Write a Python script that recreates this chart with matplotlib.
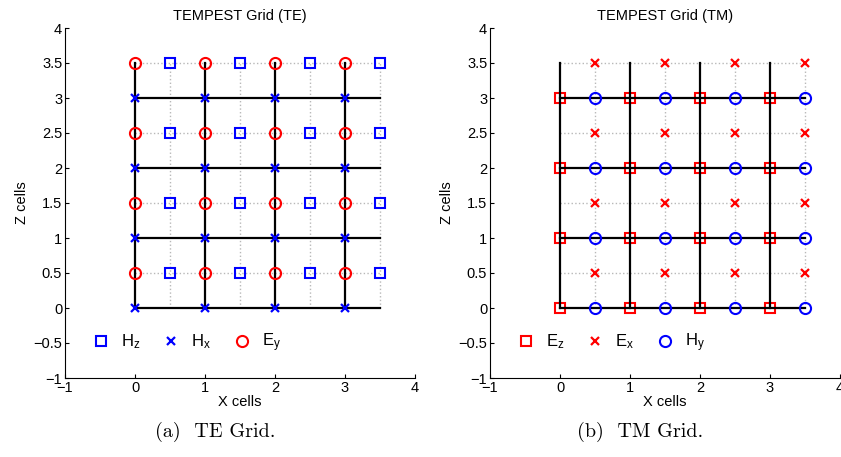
import matplotlib.pyplot as plt
import numpy as np

# -- Grid data (cell coordinates) --
int_pos = [0, 1, 2, 3]
half_pos = [0.5, 1.5, 2.5, 3.5]
line_end = 3.5

te_title = 'TEMPEST Grid (TE)'
tm_title = 'TEMPEST Grid (TM)'
te_labels = [r'$\mathregular{H_z}$', r'$\mathregular{H_x}$', r'$\mathregular{E_y}$']
tm_labels = [r'$\mathregular{E_z}$', r'$\mathregular{E_x}$', r'$\mathregular{H_y}$']
ticks = [-1, -0.5, 0, 0.5, 1, 1.5, 2, 2.5, 3, 3.5, 4]
xticks = [-1, 0, 1, 2, 3, 4]

plt.rcParams['font.family'] = ['Liberation Sans', 'DejaVu Sans']

W, H = 841, 457
fig = plt.figure(figsize=(W / 100, H / 100), dpi=100)


def fmt(t):
    return ('%g' % t).replace('-', '\u2212')


def mesh(xs, zs):
    X, Z = np.meshgrid(xs, zs)
    return X.ravel(), Z.ravel()


def draw_grid(ax):
    # gray dotted half-cell lines
    for z in half_pos:
        ax.plot([0, line_end], [z, z], ':', color='0.72', lw=1, zorder=1)
    for x in half_pos:
        ax.plot([x, x], [0, line_end], ':', color='0.72', lw=1, zorder=1)
    # black cell lines
    for x in int_pos:
        ax.plot([x, x], [0, line_end], '-', color='k', lw=1.6, zorder=2)
    for z in int_pos:
        ax.plot([0, line_end], [z, z], '-', color='k', lw=1.6, zorder=2)


def style_axes(ax, title):
    ax.set_xlim(-1, 4)
    ax.set_ylim(-1, 4)
    ax.set_xticks(xticks)
    ax.set_xticklabels([fmt(t) for t in xticks])
    ax.set_yticks(ticks)
    ax.set_yticklabels([fmt(t) for t in ticks])
    ax.spines['top'].set_visible(False)
    ax.spines['right'].set_visible(False)
    ax.tick_params(direction='in', length=3, labelsize=10.5, width=0.8, pad=2)
    ax.set_title(title, fontsize=10.5, pad=6)
    ax.set_xlabel('X cells', fontsize=10.5, labelpad=0)
    ax.set_ylabel('Z cells', fontsize=10.5, labelpad=3)


def add_legend(ax, handles, labels):
    ax.legend(handles, labels, ncol=3, frameon=False, fontsize=12,
              loc='center left', bbox_to_anchor=(0.035, 0.1), handlelength=1,
              handletextpad=0.7, columnspacing=1.35)


# -- TE grid --
ax1 = fig.add_axes([65 / W, 79 / H, 350 / W, 350 / H])
draw_grid(ax1)
x, z = mesh(half_pos, half_pos)
h1, = ax1.plot(x, z, 's', ms=6.5, mfc='none', mec='b', mew=1.5, zorder=3)
x, z = mesh(int_pos, int_pos)
h2, = ax1.plot(x, z, 'x', ms=5.5, mec='b', mew=1.6, zorder=3)
x, z = mesh(int_pos, half_pos)
h3, = ax1.plot(x, z, 'o', ms=8, mfc='none', mec='r', mew=1.5, zorder=3)
style_axes(ax1, te_title)
add_legend(ax1, [h1, h2, h3], te_labels)

# -- TM grid --
ax2 = fig.add_axes([490 / W, 79 / H, 350 / W, 350 / H])
draw_grid(ax2)
x, z = mesh(int_pos, int_pos)
g1, = ax2.plot(x, z, 's', ms=6.5, mfc='none', mec='r', mew=1.5, zorder=1.5)
x, z = mesh(half_pos, half_pos)
g2, = ax2.plot(x, z, 'x', ms=5.5, mec='r', mew=1.6, zorder=3)
x, z = mesh(half_pos, int_pos)
g3, = ax2.plot(x, z, 'o', ms=8, mfc='none', mec='b', mew=1.5, zorder=3)
style_axes(ax2, tm_title)
add_legend(ax2, [g1, g2, g3], tm_labels)

# -- Captions --
fig.text(215 / W, 1 - 432 / H, '(a)  TE Grid.', family='cmr10', fontsize=14.5,
         ha='center', va='center')
fig.text(640 / W, 1 - 432 / H, '(b)  TM Grid.', family='cmr10', fontsize=14.5,
         ha='center', va='center')

fig.savefig('out.png', dpi=100)
